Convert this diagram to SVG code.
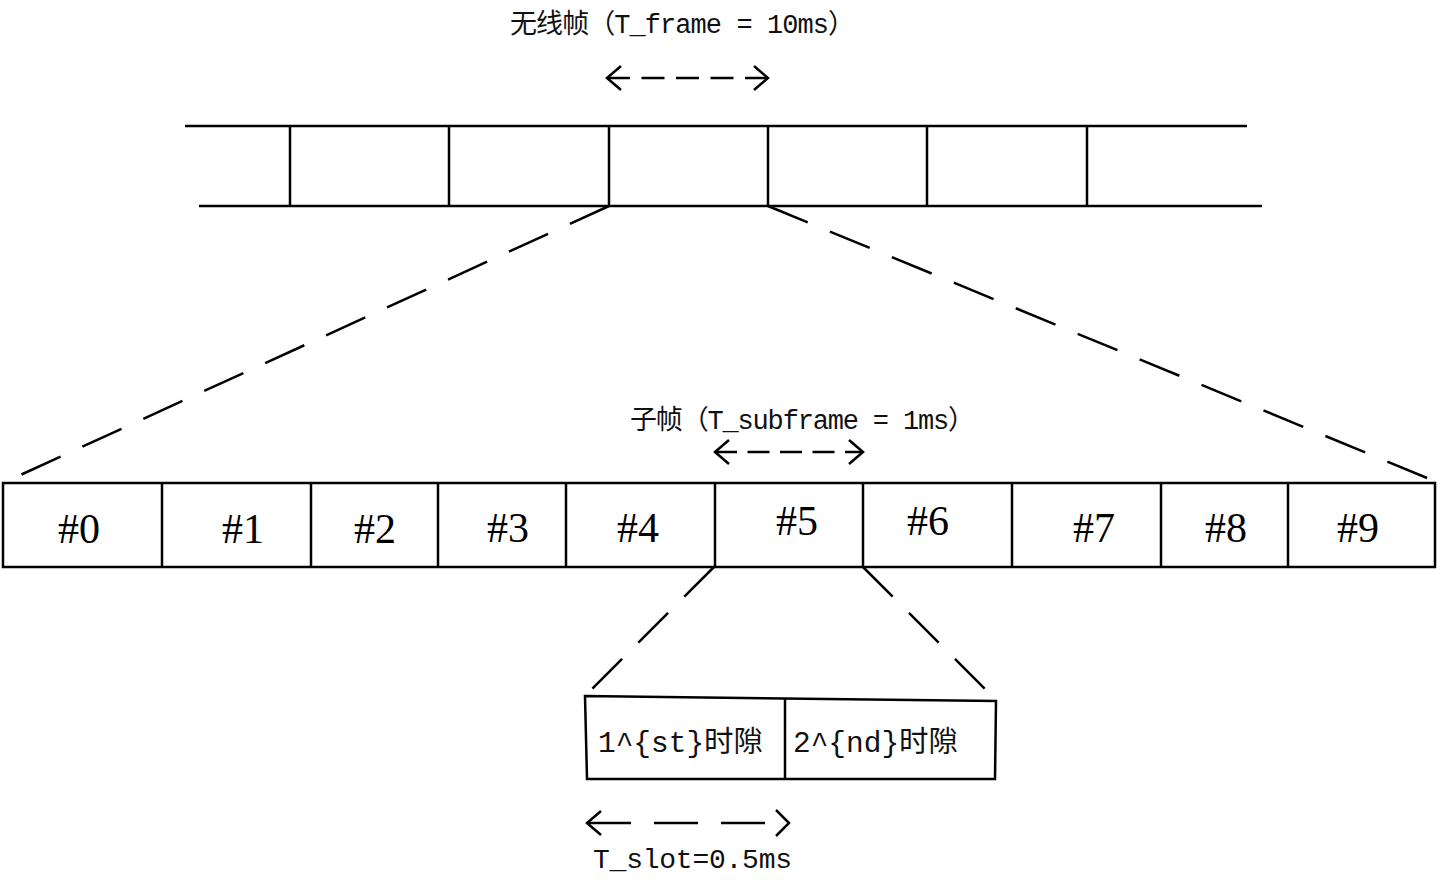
<svg xmlns="http://www.w3.org/2000/svg" width="1440" height="892" viewBox="0 0 1440 892">
<style>
.ln{stroke:#000;stroke-width:2.5;fill:none}
.fan{stroke:#000;stroke-width:2.5;fill:none;stroke-dasharray:43 24}
.fan2{stroke:#000;stroke-width:2.5;fill:none;stroke-dasharray:42 23}
.arr{stroke:#000;stroke-width:2.5;fill:none}
.lbl{font-family:"Liberation Mono","Noto Sans CJK SC",monospace;fill:#111}
.num{font-family:"Liberation Serif",serif;font-size:42px;fill:#000}
</style>
<rect width="1440" height="892" fill="#fff"/>
<g id="frame-label">
<text class="lbl" x="510" y="33" font-size="27" textLength="345" lengthAdjust="spacing">无线帧（T_frame = 10ms）</text>
</g>
<g id="frame-arrow">
<line class="arr" x1="607" y1="78" x2="768" y2="78" stroke-dasharray="23 11.5"/>
<polyline class="arr" points="621,66 607,78 621,90"/>
<polyline class="arr" points="754,66 768,78 754,90"/>
</g>
<g id="radio-frame">
<line class="ln" x1="185" y1="126" x2="1247" y2="126"/>
<line class="ln" x1="199" y1="206" x2="1262" y2="206"/>
<line class="ln" x1="290" y1="126" x2="290" y2="206"/>
<line class="ln" x1="449" y1="126" x2="449" y2="206"/>
<line class="ln" x1="609" y1="126" x2="609" y2="206"/>
<line class="ln" x1="768" y1="126" x2="768" y2="206"/>
<line class="ln" x1="927" y1="126" x2="927" y2="206"/>
<line class="ln" x1="1087" y1="126" x2="1087" y2="206"/>
</g>
<g id="connectors">
<line class="fan" x1="609" y1="206" x2="16" y2="477"/>
<line class="fan" x1="768" y1="206" x2="1432" y2="480"/>
<line class="fan2" x1="714" y1="567" x2="588" y2="693"/>
<line class="fan2" x1="863" y1="567" x2="989" y2="693"/>
</g>
<g id="subframe-label">
<text class="lbl" x="630" y="429" font-size="27" textLength="345" lengthAdjust="spacing">子帧（T_subframe = 1ms）</text>
</g>
<g id="subframe-arrow">
<line class="arr" x1="715" y1="452" x2="863" y2="452" stroke-dasharray="22 10.5"/>
<polyline class="arr" points="729,440 715,452 729,464"/>
<polyline class="arr" points="849,440 863,452 849,464"/>
</g>
<g id="subframes">
<rect class="ln" x="3" y="483" width="1432" height="84"/>
<line class="ln" x1="162" y1="483" x2="162" y2="567"/>
<line class="ln" x1="311" y1="483" x2="311" y2="567"/>
<line class="ln" x1="438" y1="483" x2="438" y2="567"/>
<line class="ln" x1="566" y1="483" x2="566" y2="567"/>
<line class="ln" x1="715" y1="483" x2="715" y2="567"/>
<line class="ln" x1="863" y1="483" x2="863" y2="567"/>
<line class="ln" x1="1012" y1="483" x2="1012" y2="567"/>
<line class="ln" x1="1161" y1="483" x2="1161" y2="567"/>
<line class="ln" x1="1288" y1="483" x2="1288" y2="567"/>
<text class="num" x="58" y="543">#0</text>
<text class="num" x="222" y="543">#1</text>
<text class="num" x="354" y="543">#2</text>
<text class="num" x="487" y="542">#3</text>
<text class="num" x="617" y="542">#4</text>
<text class="num" x="776" y="535">#5</text>
<text class="num" x="907" y="535">#6</text>
<text class="num" x="1073" y="542">#7</text>
<text class="num" x="1205" y="542">#8</text>
<text class="num" x="1337" y="542">#9</text>
</g>
<g id="slots">
<polygon class="ln" points="585,696 996,701 995,779 587,779"/>
<line class="ln" x1="785" y1="698" x2="785" y2="779"/>
<text class="lbl" x="598" y="752" font-size="29" textLength="165" lengthAdjust="spacingAndGlyphs">1^{st}时隙</text>
<text class="lbl" x="793" y="752" font-size="29" textLength="165" lengthAdjust="spacingAndGlyphs">2^{nd}时隙</text>
</g>
<g id="slot-arrow">
<line class="arr" x1="587" y1="823" x2="789" y2="823" stroke-dasharray="44 23"/>
<polyline class="arr" points="601,811 587,823 601,835"/>
<polyline class="arr" points="776,810 789,823 776,836"/>
<text class="lbl" x="593" y="868" font-size="28" textLength="199" lengthAdjust="spacing">T_slot=0.5ms</text>
</g>
</svg>
